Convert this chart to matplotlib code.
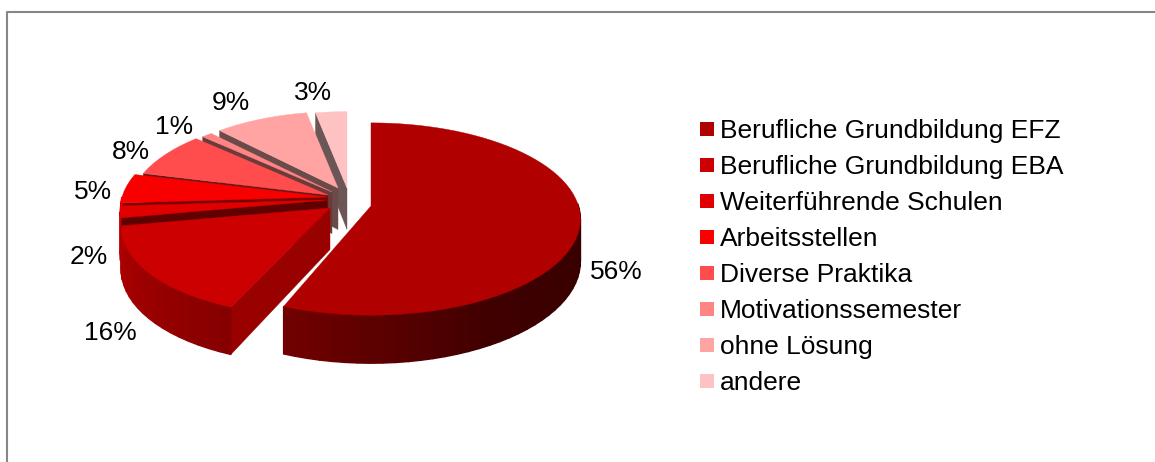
import matplotlib
matplotlib.use("Agg")
import matplotlib.pyplot as plt
import numpy as np

plt.rcParams['font.family'] = ['Liberation Sans', 'DejaVu Sans']

# Chart data
categories = [
    "Berufliche Grundbildung EFZ", "Berufliche Grundbildung EBA",
    "Weiterführende Schulen", "Arbeitsstellen", "Diverse Praktika",
    "Motivationssemester", "ohne Lösung", "andere"
]
values = [56, 16, 2, 5, 8, 1, 9, 3]

# Colours
top_colors = ["#b00000", "#cc0000", "#e00000", "#f80000",
              "#ff4d4d", "#ff8585", "#ffa3a3", "#ffc2c2"]
wall_colors = ["#300000", "#990000", "#600000", "#7a0000",
               "#661a1a", "#6b3a3a", "#6b4a4a", "#6b5555"]

# Pie geometry, in pixels of the figure
center_x, center_y = 344, 203
radius = 205
squash = 0.455
persp = 0.134
depth = 41.5
# how far each slice is pulled out of the pie, its size and lean
pull_x = [27, -14, -17, -17, -16, -12, -6, 3]
pull_y = [3, 5, -3, -6, -8, -11, -15, -15]
scale = [1.012, 1.0, 1.0, 1.0, 0.96, 0.94, 0.92, 0.92]
shear = [0, -0.13, 0, 0, 0, 0, 0, 0]
# percentage label positions
label_x = [616, 110, 89, 93, 131, 174, 231, 313]
label_y = [272, 333, 257, 192, 152, 127, 103, 93]


def project(theta, r, ox, oy, lean=0.0):
    # theta is clockwise from 12 o'clock, the far side gets smaller
    u = r * np.sin(theta)
    v = r * np.cos(theta)
    w = 1 + persp * v
    y = -radius * squash * v / w
    return ox + radius * u / w + lean * y, oy + y, depth / w


def rim_shade(theta):
    # light falls from the left, the right side of the rim goes dark
    return np.interp(np.degrees(theta), [90, 150, 201, 259, 270], [0.3, 0.36, 0.65, 0.86, 0.88])


def side(a, b, p):
    return (b[0] - a[0]) * (p[1] - a[1]) - (b[1] - a[1]) * (p[0] - a[0])


fig = plt.figure(figsize=(11.55, 4.62), dpi=100)
ax = fig.add_axes([0, 0, 1, 1])
ax.set_xlim(0, 1155)
ax.set_ylim(462, 0)
ax.axis("off")

# Chart frame, the right and bottom sides are cut off
ax.plot([7, 7, 1155], [462, 12, 12], color="#868686", lw=1.5)

angles = np.radians(np.concatenate([[0], np.cumsum(values)]) * 3.6)

# Slices back to front
for i in [7, 6, 5, 4, 3, 2, 1, 0]:
    start, end = angles[i], angles[i + 1]
    ox, oy = center_x + pull_x[i], center_y + pull_y[i]
    thetas = np.linspace(start, end, max(3, int(np.degrees(end - start) / 3)))
    xs, ys, ds = project(thetas, scale[i], ox, oy, shear[i])
    mid = project((start + end) / 2, scale[i], ox, oy, shear[i])

    # cut walls, only those turned to the viewer
    for k in [0, -1]:
        a = (ox, oy)
        b = (xs[k], ys[k])
        if side(a, b, mid) * side(a, b, (ox, oy + 1)) < -1e-6:
            ax.fill([ox, xs[k], xs[k], ox],
                    [oy, ys[k], ys[k] + ds[k], oy + depth],
                    color=wall_colors[i], lw=0.3, zorder=2 * (8 - i))

    # outer rim with a shaded band per step
    rgb = np.array(matplotlib.colors.to_rgb(top_colors[i]))
    for j in range(len(thetas) - 1):
        tm = (thetas[j] + thetas[j + 1]) / 2
        if np.cos(tm) > 0:
            continue
        ax.fill([xs[j], xs[j + 1], xs[j + 1], xs[j]],
                [ys[j], ys[j + 1], ys[j + 1] + ds[j + 1], ys[j] + ds[j]],
                color=rgb * rim_shade(tm), lw=1.0, zorder=2 * (8 - i))

    # top face
    ax.fill(np.r_[ox, xs], np.r_[oy, ys], color=top_colors[i], lw=0.3, zorder=2 * (8 - i) + 1)

# Percentage labels
for i, val in enumerate(values):
    ax.text(label_x[i], label_y[i], f"{val}%", fontsize=19, color="#000000",
            ha="center", va="center", zorder=40)

# Legend
for i, name in enumerate(categories):
    row_y = 129 + 36 * i
    ax.fill([700, 714, 714, 700], [row_y - 7, row_y - 7, row_y + 7, row_y + 7],
            color=top_colors[i], lw=0, zorder=40)
    ax.text(720, row_y + 2, name, fontsize=19, color="#000000", ha="left", va="center", zorder=40)

plt.savefig("out.png", dpi=100)
